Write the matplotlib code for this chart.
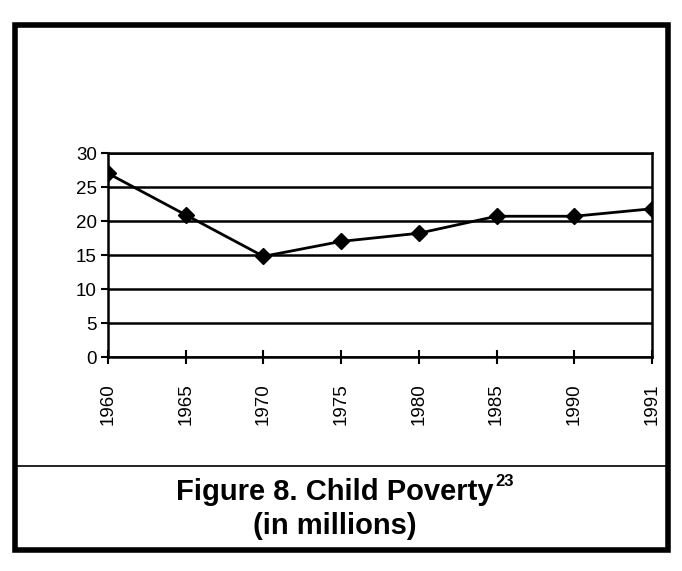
import matplotlib
matplotlib.use("Agg")
import matplotlib.pyplot as plt
from matplotlib.patches import Rectangle
from matplotlib.lines import Line2D

years = ['1960', '1965', '1970', '1975', '1980', '1985', '1990', '1991']
poverty = [27.0, 20.9, 14.8, 17.0, 18.2, 20.7, 20.7, 21.8]
yticks = [0, 5, 10, 15, 20, 25, 30]

plt.rcParams['font.family'] = ['Liberation Sans', 'DejaVu Sans']

fig = plt.figure(figsize=(6.82, 5.71), dpi=100)
W, H = 682, 571

# plot area in pixel terms
left, right, top, bottom = 108, 652, 153, 357
ax = fig.add_axes([left / W, 1 - bottom / H, (right - left) / W, (bottom - top) / H])

x = list(range(len(years)))
ax.plot(x, poverty, color='black', lw=2, marker='D', markersize=8, zorder=3)

ax.set_xlim(0, len(years) - 1)
ax.set_ylim(0, 30)
ax.set_yticks(yticks)
ax.set_xticks(x)
ax.set_xticklabels(years, rotation=90, fontsize=13.5)
ax.tick_params(axis='y', labelsize=13.5, length=5, width=1.5, direction='out', pad=3)
ax.tick_params(axis='x', length=10, width=1.5, direction='inout', pad=14)
ax.grid(axis='y', color='black', lw=1.8)
for s in ax.spines.values():
    s.set_linewidth(1.8)

# outer frame and caption divider
fig.add_artist(Rectangle((15 / W, 1 - 550 / H), (668 - 15) / W, (550 - 25) / H,
                         transform=fig.transFigure, fill=False, lw=4, ec='black'))
fig.add_artist(Line2D([15 / W, 668 / W], [1 - 466 / H, 1 - 466 / H],
                      transform=fig.transFigure, color='black', lw=1.2))

t = fig.text(335 / W, 1 - 492 / H, 'Figure 8. Child Poverty',
             ha='center', va='center', fontsize=21, fontweight='bold')
fig.canvas.draw()
bb = t.get_window_extent()
fig.text(bb.x1 / W + 0.002, 1 - 481 / H, '23', ha='left', va='center',
         fontsize=12, fontweight='bold')
fig.text(335 / W, 1 - 526 / H, '(in millions)',
         ha='center', va='center', fontsize=21, fontweight='bold')

fig.savefig('out.png', dpi=100)
